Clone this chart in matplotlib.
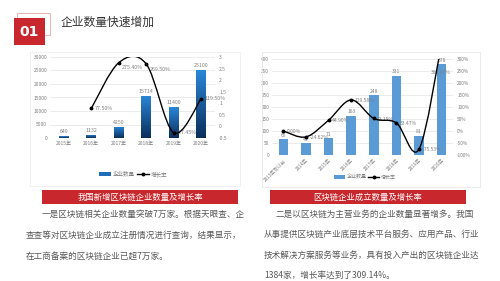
import numpy as np
import matplotlib.pyplot as plt
from matplotlib.patches import Rectangle
from matplotlib.path import Path
from matplotlib.patches import PathPatch
from matplotlib.lines import Line2D
from matplotlib.colors import LinearSegmentedColormap

plt.rcParams['font.family'] = ['Noto Sans CJK SC', 'DejaVu Sans']

# ---- data ----
years_l = ["2015年", "2016年", "2017年", "2018年", "2019年", "2020年"]
count_l = [649, 1132, 4250, 15714, 11400, 25100]
growth_l = [0.775, 2.754, 2.697, -0.2745, 1.202]
growth_l_txt = ["77.50%", "275.40%", "269.50%", "-27.45%", "119.50%"]

years_r = ["2013年及以前", "2014年", "2015年", "2016年", "2017年", "2018年", "2019年", "2020年"]
count_r = [65, 49, 71, 163, 248, 331, 81, 378]
growth_r = [0.0, -24.62, 44.90, 129.58, 52.15, 33.47, -75.53, 366.67]
growth_r_txt = ["0.00%", "-24.62%", "44.90%", "129.58%", "52.15%", "33.47%", "-75.53%", "366.67%"]

W, H = 500, 281
fig = plt.figure(figsize=(W / 100, H / 100), dpi=100)
fig.patch.set_facecolor("white")


def px_axes(x0, y0, x1, y1):
    return fig.add_axes([x0 / W, 1 - y1 / H, (x1 - x0) / W, (y1 - y0) / H])


def fx(x):
    return x / W


def fy(y):
    return 1 - y / H


def smooth_line(ax, xs, ys, **kw):
    # excel style smoothed line drawn as bezier path
    pts = np.column_stack([xs, ys]).astype(float)
    n = len(pts)
    verts = [pts[0]]
    codes = [Path.MOVETO]
    for i in range(n - 1):
        p0 = pts[i - 1] if i > 0 else pts[i]
        p1 = pts[i]
        p2 = pts[i + 1]
        p3 = pts[i + 2] if i + 2 < n else pts[i + 1]
        c1 = p1 + (p2 - p0) / 6
        c2 = p2 - (p3 - p1) / 6
        verts += [c1, c2, p2]
        codes += [Path.CURVE4] * 3
    ax.add_patch(PathPatch(Path(verts, codes), fill=False, **kw))


grey = "#7f7f7f"
txt = "#595959"

# ---- header ----
fig.patches.append(Rectangle((fx(17), fy(35)), 33 / W, 22 / H, transform=fig.transFigure,
                             fill=False, ec="#e6b8b8", lw=0.8))
fig.patches.append(Rectangle((fx(14), fy(45)), 31 / W, 27 / H, transform=fig.transFigure,
                             fc="#c8282d", ec="none"))
fig.text(fx(29.5), fy(32), "01", color="white", fontsize=10, fontweight="bold",
         ha="center", va="center", family="DejaVu Sans")
fig.text(fx(61), fy(22), "企业数量快速增加", color="#333333", fontsize=8.5, va="center")

# chart frames
fig.patches.append(Rectangle((fx(30), fy(186)), 210 / W, 134 / H, transform=fig.transFigure,
                             fill=False, ec="#eeeeee", lw=0.6))
fig.patches.append(Rectangle((fx(262), fy(187)), 218 / W, 135 / H, transform=fig.transFigure,
                             fill=False, ec="#e6e6e6", lw=0.6))

# ---- left chart ----
ax = px_axes(50, 57, 215, 138)
xl = np.arange(len(years_l))
bars = ax.bar(xl, count_l, width=0.36, color="#1f6cb8", zorder=2)
grad = np.linspace(0, 1, 100).reshape(-1, 1)
cmap = LinearSegmentedColormap.from_list("b", ["#0c2f5c", "#2a86d8"])
for b in bars:
    x0, y0 = b.get_x(), b.get_y()
    im = ax.imshow(grad, extent=[x0, x0 + b.get_width(), y0, y0 + b.get_height()],
                   origin="lower", cmap=cmap, aspect="auto", zorder=2)
    im.set_clip_path(b)
    b.set_alpha(0)
ax.set_xlim(-0.5, 5.5)
ax.set_ylim(0, 30000)
ax.set_yticks(np.arange(0, 30001, 5000))
ax.set_xticks(xl)
ax.set_xticklabels(years_l)
ax.tick_params(labelsize=3.6, colors=grey, length=0, pad=2)
ax.grid(axis="y", color="#e5e5e5", lw=0.5, zorder=0)
for s in ax.spines.values():
    s.set_visible(False)
for i, v in enumerate(count_l):
    ax.text(i, v + 700, str(v), ha="center", va="bottom", fontsize=3.8, color=grey)

ax2 = ax.twinx()
ax2.set_ylim(-0.5, 3)
ax2.set_yticks(np.arange(-0.5, 3.01, 0.5))
ax2.set_yticklabels(["-0.5", "0", "0.5", "1", "1.5", "2", "2.5", "3"])
ax2.tick_params(labelsize=3.6, colors=grey, length=0, pad=3)
for s in ax2.spines.values():
    s.set_visible(False)
smooth_line(ax2, xl[1:], growth_l, color="black", lw=1.0, zorder=4)
ax2.plot(xl[1:], growth_l, "o", color="black", ms=1.8, zorder=5)
for i, (v, t) in enumerate(zip(growth_l, growth_l_txt)):
    dy = -0.12 if i in (1, 2) else 0
    ax2.text(i + 1.12, v + dy, t, fontsize=3.8, color=grey, va="top" if i in (1, 2) else "center")

# left legend
lg = [Rectangle((0, 0), 1, 1, fc="#1f6cb8"),
      Line2D([0], [0], color="black", lw=1, marker="o", ms=1.8)]
fig.legend(lg, ["企业数量", "增长率"], loc="center", bbox_to_anchor=(fx(133), fy(174)),
           ncol=2, frameon=False, fontsize=4, labelcolor=grey, handlelength=2.2,
           handleheight=0.6, columnspacing=0.3, handletextpad=0.3)

# ---- right chart ----
bx = px_axes(272, 59, 453, 155)
xr = np.arange(len(years_r))
bx.bar(xr, count_r, width=0.42, color="#5b9bd5", zorder=2)
bx.set_xlim(-0.5, 7.5)
bx.set_ylim(0, 400)
bx.set_yticks(np.arange(0, 401, 50))
bx.set_xticks(xr)
bx.set_xticklabels(years_r, rotation=45, ha="right", rotation_mode="anchor")
bx.tick_params(labelsize=3.4, colors=grey, length=0, pad=2)
bx.grid(axis="y", color="#e5e5e5", lw=0.5, zorder=0)
for s in bx.spines.values():
    s.set_visible(False)
for i, v in enumerate(count_r):
    bx.text(i, v + 6, str(v), ha="center", va="bottom", fontsize=3.6, color=grey)

bx2 = bx.twinx()
bx2.set_ylim(-100, 300)
bx2.set_yticks(np.arange(-100, 301, 50))
bx2.set_yticklabels([f"{v}%" for v in range(-100, 301, 50)])
bx2.tick_params(labelsize=3.4, colors=grey, length=0, pad=3)
for s in bx2.spines.values():
    s.set_visible(False)
smooth_line(bx2, xr, growth_r, color="black", lw=1.0, zorder=4, clip_on=True)
bx2.plot(xr, growth_r, "o", color="black", ms=1.8, zorder=5, clip_on=True)
for i, (v, t) in enumerate(zip(growth_r[:-1], growth_r_txt[:-1])):
    bx2.text(i + 0.15, v - 3, t, fontsize=3.6, color=grey, va="center")
bx2.text(7.4, 245, growth_r_txt[-1], fontsize=3.6, color=grey, va="center", ha="right")

lg2 = [Rectangle((0, 0), 1, 1, fc="#5b9bd5"),
       Line2D([0], [0], color="black", lw=1, marker="o", ms=1.8)]
fig.legend(lg2, ["企业数量", "增长率"], loc="center", bbox_to_anchor=(fx(365), fy(177)),
           ncol=2, frameon=False, fontsize=3.6, labelcolor=grey, handlelength=2.2,
           handleheight=0.6, columnspacing=0.3, handletextpad=0.3)

# ---- caption bars ----
fig.patches.append(Rectangle((fx(42), fy(204)), 196 / W, 14 / H, transform=fig.transFigure,
                             fc="#c8282d", ec="none"))
fig.text(fx(140), fy(197), "我国新增区块链企业数量及增长率", color="white", fontsize=6,
         ha="center", va="center")
fig.patches.append(Rectangle((fx(270), fy(204)), 196 / W, 14 / H, transform=fig.transFigure,
                             fc="#c8282d", ec="none"))
fig.text(fx(368), fy(197), "区块链企业成立数量及增长率", color="white", fontsize=6,
         ha="center", va="center")

# ---- body text ----
left_lines = ["一是区块链相关企业数量突破7万家。根据天眼查、企",
              "查查等对区块链企业成立注册情况进行查询，结果显示，",
              "在工商备案的区块链企业已超7万家。"]
left_x = [42, 26, 26]
for i, (s, x) in enumerate(zip(left_lines, left_x)):
    fig.text(fx(x), fy(214 + 21 * i), s, color=txt, fontsize=6.2, va="center")

right_lines = ["二是以区块链为主营业务的企业数量显著增多。我国",
               "从事提供区块链产业底层技术平台服务、应用产品、行业",
               "技术解决方案服务等业务，具有投入产出的区块链企业达",
               "1384家，增长率达到了309.14%。"]
right_x = [276, 264, 264, 264]
for i, (s, x) in enumerate(zip(right_lines, right_x)):
    fig.text(fx(x), fy(214 + 20.5 * i), s, color=txt, fontsize=6.2, va="center")

fig.savefig("out.png", dpi=100)
